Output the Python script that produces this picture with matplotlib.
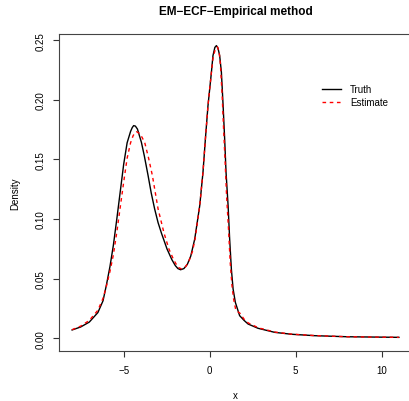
import matplotlib
matplotlib.use("Agg")
import matplotlib.pyplot as plt

plt.rcParams['font.family'] = ['Liberation Sans', 'DejaVu Sans']

# truth curve
truth_x = [-8.0, -7.5, -7.0, -6.5, -6.2, -6.0, -5.8, -5.6, -5.4, -5.2, -5.0, -4.8,
           -4.6, -4.5, -4.42, -4.32, -4.2, -3.97, -3.8, -3.58, -3.4, -3.2, -3.0,
           -2.8, -2.48, -2.2, -2.0, -1.85, -1.69, -1.5, -1.3, -1.1, -0.87, -0.58,
           -0.39, -0.25, -0.10, 0.10, 0.19, 0.30, 0.39, 0.48, 0.58, 0.68, 0.78,
           0.87, 0.95, 1.07, 1.16, 1.26, 1.36, 1.49, 1.74, 2.0, 2.23, 2.81, 3.78,
           4.75, 6.1, 8.0, 11.0]
truth_y = [0.0070, 0.0095, 0.0136, 0.0216, 0.0315, 0.0450, 0.0600, 0.0780, 0.1000,
           0.1230, 0.1460, 0.1640, 0.1735, 0.1768, 0.1784, 0.1780, 0.1755, 0.1644,
           0.1530, 0.1364, 0.1220, 0.1085, 0.0970, 0.0880, 0.0749, 0.0660, 0.0610,
           0.0585, 0.0575, 0.0585, 0.0620, 0.0690, 0.0833, 0.1112, 0.1393, 0.1672,
           0.1951, 0.2232, 0.2371, 0.2440, 0.2455, 0.2435, 0.2371, 0.2232, 0.1951,
           0.1672, 0.1393, 0.1112, 0.0833, 0.0580, 0.0414, 0.0302, 0.0190, 0.0150,
           0.0120, 0.0084, 0.0050, 0.0034, 0.0022, 0.0013, 0.0008]

# EM-ECF estimate
est_x = [-8.0, -7.5, -7.0, -6.5, -6.2, -6.0, -5.8, -5.6, -5.4, -5.2, -5.0, -4.8,
         -4.6, -4.45, -4.35, -4.26, -4.1, -3.95, -3.78, -3.55, -3.33, -3.0, -2.65,
         -2.37, -2.1, -1.84, -1.65, -1.4, -1.2, -1.0, -0.85, -0.58, -0.39, -0.25,
         -0.10, 0.10, 0.20, 0.32, 0.45, 0.55, 0.62, 0.72, 0.81, 0.90, 0.98, 1.10,
         1.19, 1.29, 1.39, 1.52, 1.76, 2.0, 2.25, 2.83, 3.8, 4.75, 6.1, 8.0, 11.0]
est_y = [0.0072, 0.0102, 0.0150, 0.0235, 0.0335, 0.0440, 0.0560, 0.0700, 0.0890,
         0.1100, 0.1310, 0.1510, 0.1640, 0.1700, 0.1722, 0.1733, 0.1720, 0.1690,
         0.1644, 0.1510, 0.1364, 0.1085, 0.0880, 0.0749, 0.0660, 0.0595, 0.0583,
         0.0600, 0.0650, 0.0730, 0.0833, 0.1112, 0.1393, 0.1672, 0.1951, 0.2232,
         0.2360, 0.2420, 0.2445, 0.2400, 0.2300, 0.2050, 0.1750, 0.1470, 0.1200,
         0.0900, 0.0640, 0.0450, 0.0330, 0.0235, 0.0210, 0.0160, 0.0128, 0.0088,
         0.0052, 0.0035, 0.0023, 0.0013, 0.0008]

x_ticks = [-5, 0, 5, 10]
y_ticks = [0.00, 0.05, 0.10, 0.15, 0.20, 0.25]

W, H = 409, 402
fig = plt.figure(figsize=(W / 100, H / 100), dpi=100)
ax = fig.add_axes([59 / W, 1 - 352.3 / H, (412 - 59) / W, (352.3 - 34.7) / H])

ax.plot(truth_x, truth_y, color='black', lw=1.0, label='Truth')
ax.plot(est_x, est_y, color='red', lw=1.0, dashes=(2.6, 2.6), label='Estimate')

ax.set_xlim(-8.76, 11.76)
ax.set_ylim(-0.0109, 0.2555)
ax.set_xticks(x_ticks)
ax.set_xticklabels(['\u22125', '0', '5', '10'])
ax.set_yticks(y_ticks)
ax.set_yticklabels(['%.2f' % v for v in y_ticks], rotation=90, va='center')
ax.tick_params(length=4.1, width=0.8, labelsize=7, color='#333333')
ax.tick_params(axis='x', pad=5.5)
ax.tick_params(axis='y', pad=5.5)
for s in ax.spines.values():
    s.set_color('#444444')
    s.set_linewidth(0.8)

ax.set_xlabel('x', fontsize=7, labelpad=11)
ax.set_ylabel('Density', fontsize=7, labelpad=11)
ax.set_title('EM\u2212ECF\u2212Empirical method', fontsize=8.5, fontweight='bold', pad=14)

ax.legend(loc='center left', bbox_to_anchor=(322 / W, 1 - 96.5 / H),
          bbox_transform=fig.transFigure, frameon=False, fontsize=7,
          handlelength=2.0, handletextpad=0.9, labelspacing=0.3, borderpad=0,
          borderaxespad=0)

fig.savefig('out.png', dpi=100)
